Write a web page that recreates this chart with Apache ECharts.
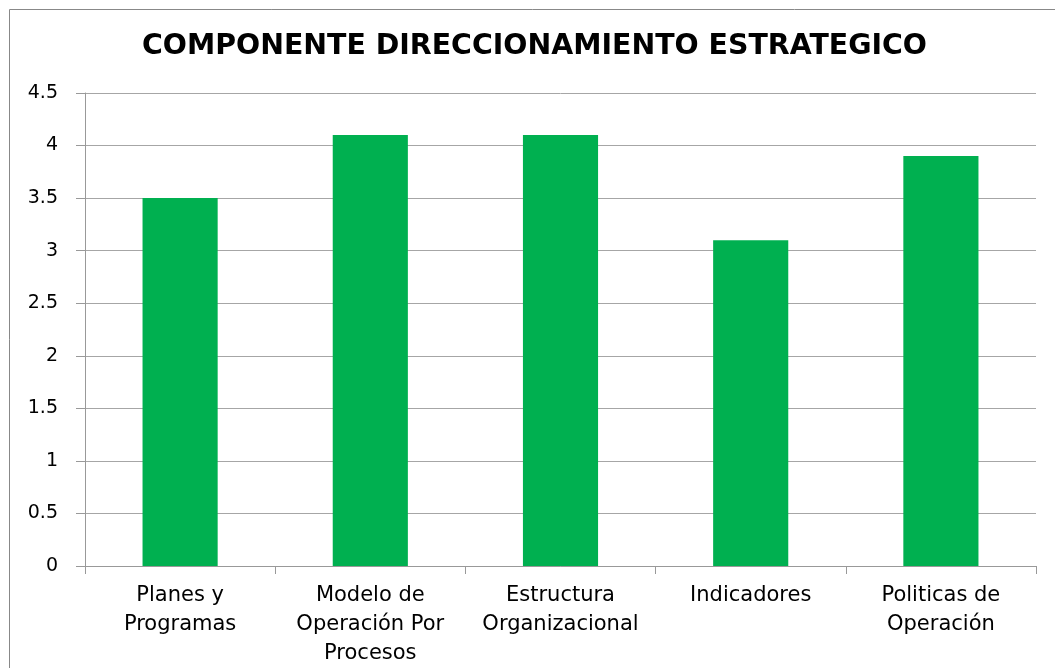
<!DOCTYPE html>
<html>
<head>
<meta charset="utf-8">
<script src="https://cdn.jsdelivr.net/npm/echarts@6/dist/echarts.min.js"></script>
<style>
html, body { margin: 0; padding: 0; background: #fff; }
#chart { width: 1055px; height: 668px; }
</style>
</head>
<body>
<div id="chart"></div>
<script>
// datos del componente
var categorias = ['Planes y\nProgramas', 'Modelo de\nOperación Por\nProcesos', 'Estructura\nOrganizacional', 'Indicadores', 'Politicas de\nOperación'];
var valores = [3.5, 4.1, 4.1, 3.1, 3.9];

var chart = echarts.init(document.getElementById('chart'));
var option = {
	animation: false,
	textStyle: { fontFamily: 'DejaVu Sans' },
	title: {
		text: 'COMPONENTE DIRECCIONAMIENTO ESTRATEGICO',
		left: 137,
		top: 28,
		textStyle: {
			fontSize: 28.4,
			fontWeight: 'bold',
			color: '#000',
			fontFamily: 'DejaVu Sans'
		}
	},
	graphic: [{
		type: 'rect',
		shape: { x: 9.5, y: 9.5, width: 1100, height: 700 },
		style: { fill: 'none', stroke: '#888', lineWidth: 1 },
		silent: true
	}],
	grid: {
		left: 85,
		right: 19,
		top: 93,
		bottom: 102,
		outerBoundsMode: 'none'
	},
	xAxis: {
		type: 'category',
		data: categorias,
		axisLine: { lineStyle: { color: '#999' } },
		axisTick: { show: true, length: 8, lineStyle: { color: '#999' } },
		axisLabel: {
			color: '#000',
			fontSize: 21,
			lineHeight: 29,
			margin: 15,
			interval: 0
		}
	},
	yAxis: {
		type: 'value',
		min: 0,
		max: 4.5,
		interval: 0.5,
		axisLine: { show: true, lineStyle: { color: '#999' } },
		axisTick: { show: true, length: 9, lineStyle: { color: '#999' } },
		axisLabel: {
			color: '#000',
			fontSize: 19,
			margin: 27
		},
		splitLine: { lineStyle: { color: '#a6a6a6', width: 1 } }
	},
	series: [{
		type: 'bar',
		data: valores,
		barWidth: '39.5%',
		itemStyle: { color: '#00b050' }
	}]
};
chart.setOption(option);
</script>
</body>
</html>
